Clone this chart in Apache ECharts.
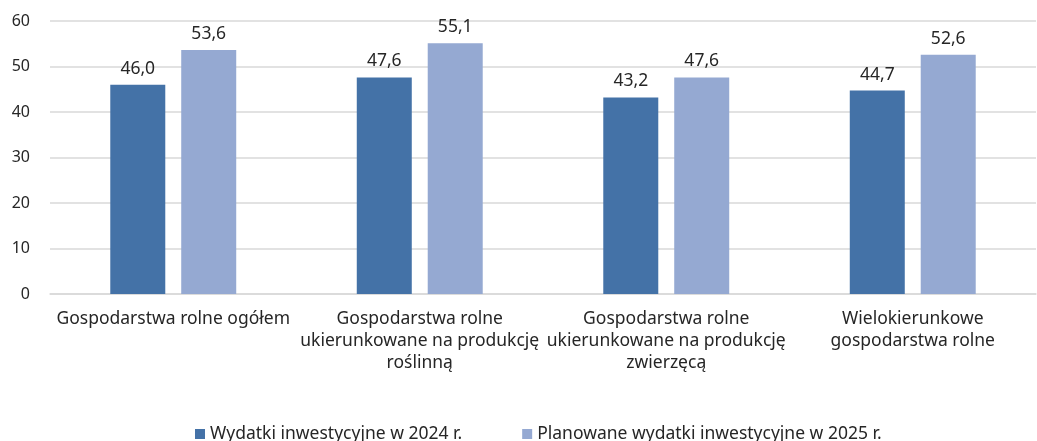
<!DOCTYPE html>
<html>
<head>
<meta charset="utf-8">
<script src="https://cdn.jsdelivr.net/npm/echarts@6/dist/echarts.min.js"></script>
<style>
  html, body { margin: 0; padding: 0; background: #fff; }
  #chart { width: 1037px; height: 441px; }
</style>
</head>
<body>
<div id="chart"></div>
<script>
  // dane
  var categories = [
    'Gospodarstwa rolne ogółem',
    'Gospodarstwa rolne\nukierunkowane na produkcję\nroślinną',
    'Gospodarstwa rolne\nukierunkowane na produkcję\nzwierzęcą',
    'Wielokierunkowe\ngospodarstwa rolne'
  ];
  var seriesNames = ['Wydatki inwestycyjne w 2024 r.', 'Planowane wydatki inwestycyjne w 2025 r.'];
  var wydatki2024 = [46.0, 47.6, 43.2, 44.7];
  var planowane2025 = [53.6, 55.1, 47.6, 52.6];
  var yTicks = [0, 10, 20, 30, 40, 50, 60];

  var font = 'Noto Sans';
  var txt = '#262626';
  var fs = 17.5;

  function fmt(p) {
    return p.value.toFixed(1).replace('.', ',');
  }

  var chart = echarts.init(document.getElementById('chart'));
  chart.setOption({
    animation: false,
    textStyle: { fontFamily: font },
    color: ['#4472a7', '#95a9d2'],
    grid: { left: 50, right: 1, top: 21, bottom: 147 },
    legend: {
      data: seriesNames,
      top: 420,
      left: 190,
      icon: 'rect',
      itemWidth: 10,
      itemHeight: 10,
      itemGap: 60,
      textStyle: { fontFamily: font, fontSize: fs, color: txt }
    },
    xAxis: {
      type: 'category',
      data: categories,
      axisTick: { show: false },
      axisLine: { lineStyle: { color: '#d9d9d9', width: 1.5 } },
      axisLabel: {
        interval: 0,
        margin: 14,
        color: txt,
        fontFamily: font,
        fontSize: fs,
        lineHeight: 22,
        align: 'center'
      }
    },
    yAxis: {
      type: 'value',
      min: yTicks[0],
      max: yTicks[yTicks.length - 1],
      interval: 10,
      axisLine: { show: false },
      axisTick: { show: false },
      splitLine: { lineStyle: { color: '#d9d9d9', width: 1.5 } },
      axisLabel: { color: txt, fontFamily: font, fontSize: 16, margin: 20 }
    },
    series: [
      {
        name: seriesNames[0],
        type: 'bar',
        data: wydatki2024,
        barWidth: 55,
        barGap: '29%',
        label: { show: true, position: 'top', distance: 7, formatter: fmt, color: txt, fontFamily: font, fontSize: fs }
      },
      {
        name: seriesNames[1],
        type: 'bar',
        data: planowane2025,
        barWidth: 55,
        label: { show: true, position: 'top', distance: 7, formatter: fmt, color: txt, fontFamily: font, fontSize: fs }
      }
    ]
  });
</script>
</body>
</html>
